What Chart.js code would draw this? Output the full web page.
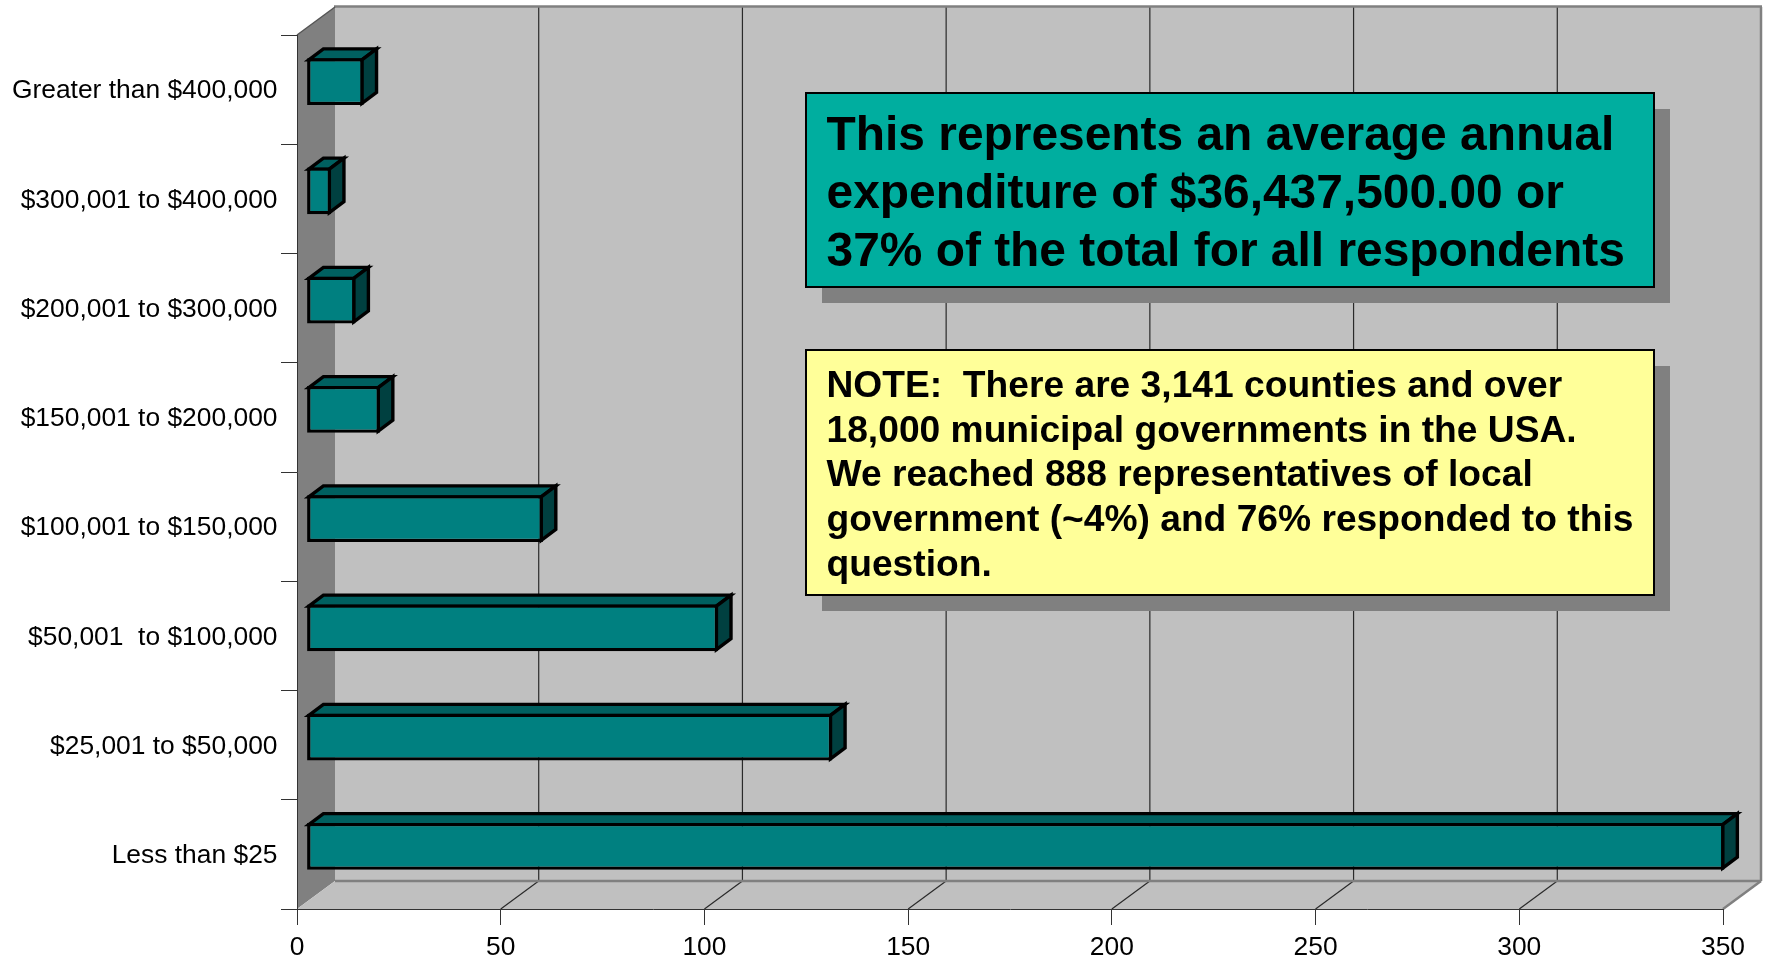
<!DOCTYPE html>
<html>
<head>
<meta charset="utf-8">
<style>html,body{margin:0;padding:0;background:#fff}canvas{display:block}</style>
<script src="https://cdn.jsdelivr.net/npm/chart.js@4"></script>
</head>
<body>
<canvas id="c" width="1767" height="959"></canvas>
<script>
const categories = ['Greater than $400,000','$300,001 to $400,000','$200,001 to $300,000','$150,001 to $200,000','$100,001 to $150,000','$50,001  to $100,000','$25,001 to $50,000','Less than $25'];
const values = [14,6,12,18,58,101,129,348];
const tealNote = ['This represents an average annual','expenditure of $36,437,500.00 or','37% of the total for all respondents'];
const yellowNote = ['NOTE:  There are 3,141 counties and over','18,000 municipal governments in the USA.','We reached 888 representatives of local','government (~4%) and 76% responded to this','question.'];

const FONT = '"Liberation Sans", Arial, sans-serif';
const WALL = {dx:38, dy:-28};
const BAR_OFFSET = {dx:9.6, dy:-8};
const BAR_DEPTH = {dx:14.6, dy:-11};

function poly(ctx, pts, fill, stroke, lw){
  ctx.beginPath();
  pts.forEach((p,i)=> i?ctx.lineTo(p[0],p[1]):ctx.moveTo(p[0],p[1]));
  ctx.closePath();
  if(fill){ctx.fillStyle=fill;ctx.fill();}
  if(stroke){ctx.strokeStyle=stroke;ctx.lineWidth=lw||1;ctx.lineJoin='miter';ctx.stroke();}
}
function line(ctx,x1,y1,x2,y2,c,w){
  ctx.beginPath();ctx.moveTo(x1,y1);ctx.lineTo(x2,y2);ctx.strokeStyle=c;ctx.lineWidth=w;ctx.stroke();
}
function noteBox(ctx,b,lines,font,lh,firstBase){
  ctx.fillStyle='#808080';
  ctx.fillRect(b.x+16,b.y+16,b.w,b.h);
  ctx.fillStyle=b.fill;
  ctx.fillRect(b.x,b.y,b.w,b.h);
  ctx.strokeStyle='#000';ctx.lineWidth=2;
  ctx.strokeRect(b.x,b.y,b.w,b.h);
  ctx.fillStyle='#000';ctx.font=font;ctx.textAlign='left';ctx.textBaseline='alphabetic';
  lines.forEach((t,i)=>ctx.fillText(t,b.x+20.5,firstBase+i*lh));
}

const chart3d = {
  id:'chart3d',
  beforeDraw(chart){
    const {ctx,chartArea:a,scales:{x}} = chart;
    const d=WALL;
    ctx.save();
    poly(ctx,[[a.left+d.dx,a.top+d.dy],[a.right+d.dx,a.top+d.dy],[a.right+d.dx,a.bottom+d.dy],[a.left+d.dx,a.bottom+d.dy]],'#C0C0C0');
    poly(ctx,[[a.left,a.top],[a.left+d.dx,a.top+d.dy],[a.left+d.dx,a.bottom+d.dy],[a.left,a.bottom]],'#808080');
    poly(ctx,[[a.left,a.bottom],[a.left+d.dx,a.bottom+d.dy],[a.right+d.dx,a.bottom+d.dy],[a.right,a.bottom]],'#C0C0C0');
    x.ticks.forEach(t=>{
      const px=x.getPixelForValue(t.value);
      if(t.value>0 && t.value<350){
        line(ctx,px+d.dx,a.top+d.dy,px+d.dx,a.bottom+d.dy,'#2a2a2a',1.2);
        line(ctx,px,a.bottom,px+d.dx,a.bottom+d.dy,'#2a2a2a',1.2);
      }
    });
    line(ctx,a.left+d.dx-1,a.top+d.dy-0.5,a.right+d.dx+1,a.top+d.dy-0.5,'#808080',2.5);
    line(ctx,a.right+d.dx,a.top+d.dy,a.right+d.dx,a.bottom+d.dy,'#808080',2.5);
    line(ctx,a.left+d.dx,a.bottom+d.dy,a.right+d.dx,a.bottom+d.dy,'#808080',2.5);
    line(ctx,a.right,a.bottom,a.right+d.dx,a.bottom+d.dy,'#808080',2.5);
    line(ctx,a.left,a.top,a.left+d.dx,a.top+d.dy,'#555',1.5);
    ctx.restore();
  },
  beforeDatasetDraw(chart,args){
    const ctx=chart.ctx, o=BAR_OFFSET, d=BAR_DEPTH;
    ctx.save();
    ctx.translate(o.dx,o.dy);
    args.meta.data.forEach(el=>{
      const p=el.getProps(['x','y','base','height'],true);
      const t=p.y-p.height/2+1.7,b=p.y+p.height/2-1.7,l=p.base+1.7,r=p.x-1.7;
      poly(ctx,[[l,t],[l+d.dx,t+d.dy],[r+d.dx,t+d.dy],[r,t]],'#006060','#000',3.4);
      poly(ctx,[[r,t],[r+d.dx,t+d.dy],[r+d.dx,b+d.dy],[r,b]],'#004040','#000',3.4);
    });
  },
  afterDatasetDraw(chart){ chart.ctx.restore(); },
  afterDatasetsDraw(chart){
    const ctx=chart.ctx;
    ctx.save();
    noteBox(ctx,{x:806,y:93,w:848,h:194,fill:'#00AE9F'},tealNote,'bold 47.9px '+FONT,58.3,149.7);
    noteBox(ctx,{x:806,y:350,w:848,h:245,fill:'#FFFF99'},yellowNote,'bold 37.2px '+FONT,44.7,397);
    ctx.restore();
  }
};

new Chart(document.getElementById('c'),{
  type:'bar',
  data:{labels:categories,datasets:[{data:values,backgroundColor:'#008080',borderColor:'#000',borderWidth:3.4,borderSkipped:false,categoryPercentage:1,barPercentage:0.43,clip:false}]},
  plugins:[chart3d],
  options:{
    indexAxis:'y',responsive:false,animation:false,
    layout:{padding:{top:35,right:44,left:0,bottom:0}},
    plugins:{legend:{display:false},tooltip:{enabled:false},title:{display:false}},
    scales:{
      x:{type:'linear',min:0,max:350,
        afterFit(s){s.height=50;},
        afterBuildTicks(s){s.ticks=[0,50,100,150,200,250,300,350].map(v=>({value:v}));},
        grid:{drawOnChartArea:false,drawTicks:true,tickLength:16,tickColor:'#333',tickWidth:1},
        border:{display:true,color:'#333',width:1},
        ticks:{color:'#000',font:{family:FONT,size:26.4},padding:7,maxRotation:0,autoSkip:false}},
      y:{type:'category',
        afterFit(s){s.width=297;},
        grid:{drawOnChartArea:false,drawTicks:true,tickLength:16,tickColor:'#333',tickWidth:1,offset:true},
        border:{display:true,color:'#333',width:1},
        ticks:{color:'#000',font:{family:FONT,size:26.4},padding:3.5,labelOffset:1.5,autoSkip:false}}
    }
  }
});
</script>
</body>
</html>
